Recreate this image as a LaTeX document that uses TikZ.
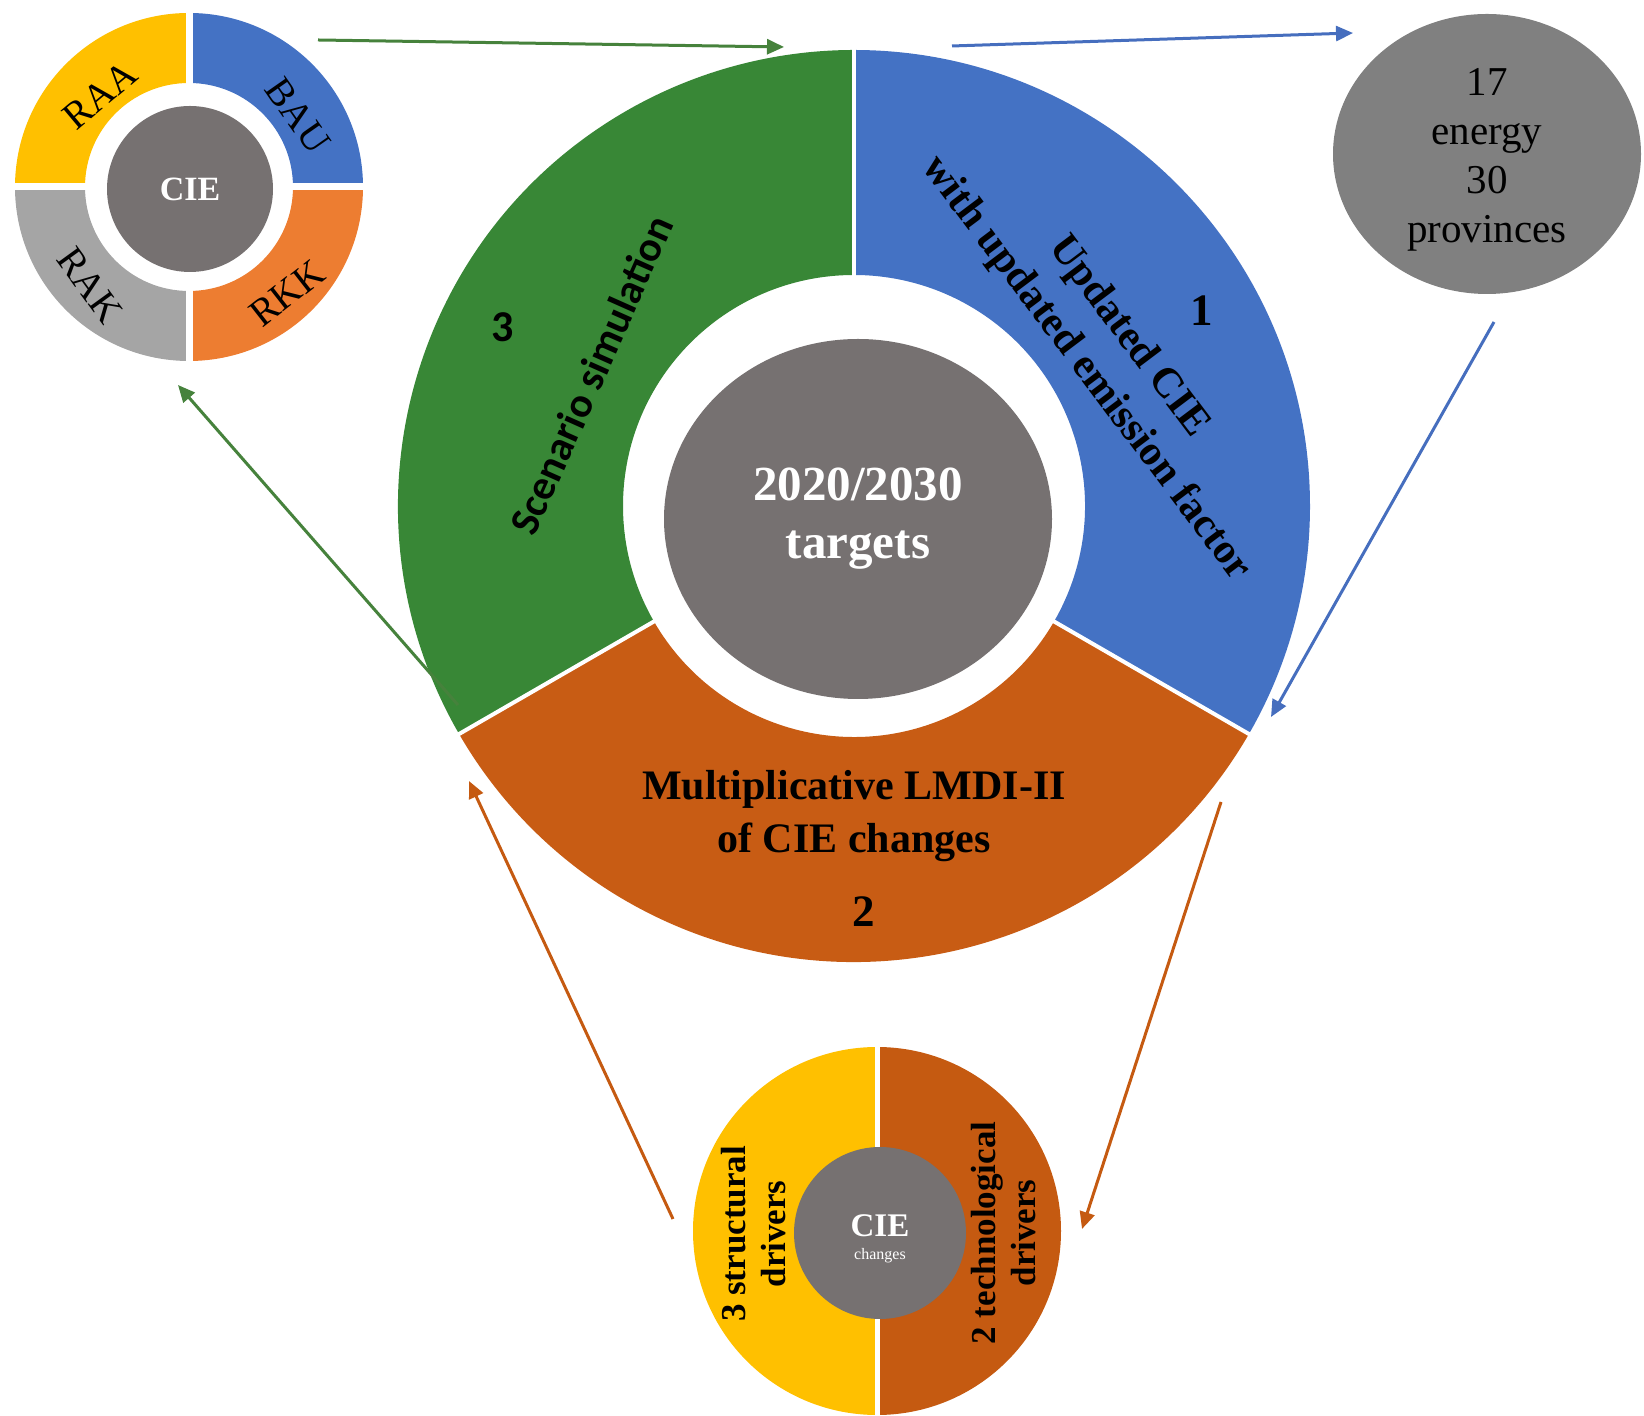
\documentclass[tikz,border=0pt]{standalone}
\usepackage{fontspec}
\setmainfont{Liberation Serif}
\newfontfamily\carlito{Carlito}
\usetikzlibrary{arrows.meta,shapes.geometric}

\definecolor{mgreen}{RGB}{56,135,54}
\definecolor{mblue}{RGB}{68,114,196}
\definecolor{morange}{RGB}{200,92,20}
\definecolor{hubgray}{RGB}{118,113,113}
\definecolor{egray}{RGB}{128,128,128}
\definecolor{syellow}{RGB}{255,192,0}
\definecolor{sorange}{RGB}{237,125,49}
\definecolor{sgray}{RGB}{165,165,165}
\definecolor{dorange}{RGB}{197,90,17}
\definecolor{agreen}{RGB}{70,130,60}
\definecolor{ablue}{RGB}{70,110,190}

\begin{document}
\begin{tikzpicture}[x=1pt,y=1pt,
    hub/.style={circle,fill=hubgray,text=white,inner sep=0},
    wheeltxt/.style={font=\fontsize{39}{44}\selectfont},
    segtxt/.style={font=\bfseries\fontsize{42}{53}\selectfont,align=center},
    drvtxt/.style={font=\bfseries\fontsize{35}{40}\selectfont,align=center},
    numtxt/.style={font=\bfseries\fontsize{45}{50}\selectfont},
    flow/.style={line width=3,-{Triangle[length=17,width=15]}}]
\useasboundingbox (0,0) rectangle (1644,1416);

% scenario wheel, top left
\coordinate (sc) at (189,1229);
\foreach \a/\col in {0/mblue,90/syellow,180/sgray,270/sorange}
  \fill[\col] ([shift={(\a:174)}]sc) arc[start angle=\a,end angle=\a+90,radius=174]
    -- ([shift={(\a+90:104)}]sc) arc[start angle=\a+90,end angle=\a,radius=104] -- cycle;
\draw[white,line width=7] ([xshift=-180]sc) -- ([xshift=180]sc);
\draw[white,line width=7] ([yshift=-180]sc) -- ([yshift=180]sc);
\node[hub,minimum size=166,font=\bfseries\fontsize{34}{40}\selectfont] (cie) at (190,1227) {CIE};
\node[wheeltxt,rotate=40] (raa) at (100,1321) {RAA};
\node[wheeltxt,rotate=-55] (bau) at (298,1300) {BAU};
\node[wheeltxt,rotate=-54] (rak) at (90,1131) {RAK};
\node[wheeltxt,rotate=38] (rkk) at (287,1123) {RKK};

% main ring
\coordinate (mc) at (854,910);
\foreach \a/\b/\col in {90/-30/mblue,-30/-150/morange,210/90/mgreen}
  \fill[\col] ([shift={(\a:456)}]mc) arc[start angle=\a,end angle=\b,radius=456]
    -- ([shift={(\b:231)}]mc) arc[start angle=\b,end angle=\a,radius=231] -- cycle;
\foreach \a in {90,-30,210}
  \draw[white,line width=4] ([shift={(\a:220)}]mc) -- ([shift={(\a:470)}]mc);
\node[hub,ellipse,minimum width=388,minimum height=360,align=center,
  font=\bfseries\fontsize{49}{58}\selectfont] (targets) at (858,897) {2020/2030\\targets};
\node[segtxt,rotate=-53] (upd) at (1107,1063) {Updated CIE\\with updated emission factor};
\node[segtxt] (lmdi) at (854,600) {Multiplicative LMDI-II\\of CIE changes};
\node[font=\carlito\bfseries\fontsize{42}{50}\selectfont,rotate=66] (scen) at (591,1041) {Scenario simulation};
\node[numtxt] (n1) at (1202,1105) {1};
\node[numtxt] (n2) at (864,504) {2};
\node[font=\carlito\bfseries\fontsize{44}{50}\selectfont] (n3) at (503,1089) {3};

% provinces, top right
\node[ellipse,fill=egray,minimum width=308,minimum height=280,inner sep=0,align=center,
  font=\fontsize{41}{49}\selectfont] (prov) at (1487,1262) {};
\node[align=center,font=\fontsize{41}{49}\selectfont] (provtxt) at (1487,1256) {17\\energy\\30\\provinces};

% drivers wheel, bottom
\coordinate (dc) at (877,185);
\fill[syellow] ([yshift=184]dc) arc[start angle=90,end angle=270,radius=184] -- cycle;
\fill[dorange] ([yshift=-184]dc) arc[start angle=-90,end angle=90,radius=184] -- cycle;
\draw[white,line width=5] ([yshift=-190]dc) -- ([yshift=190]dc);
\node[hub,minimum size=172] (chg) at (880,183) {};
\node[text=white,font=\bfseries\fontsize{33}{38}\selectfont] (chgcie) at (880,190) {CIE};
\node[text=white,font=\fontsize{16}{18}\selectfont] (chgtxt) at (880,160) {changes};
\node[drvtxt,rotate=90] (struct) at (754,182) {3 structural\\drivers};
\node[drvtxt,rotate=90] (tech) at (1004,183) {2 technological\\drivers};

% arrows
\coordinate (g1s) at (318,1376); \coordinate (g1e) at (784,1369);
\coordinate (b1s) at (952,1370); \coordinate (b1e) at (1353,1383);
\coordinate (b2s) at (1494,1094); \coordinate (b2e) at (1271,699);
\coordinate (o1s) at (1221,614); \coordinate (o1e) at (1082,187);
\coordinate (o2s) at (673,197); \coordinate (o2e) at (469,635);
\coordinate (g2s) at (458,711); \coordinate (g2e) at (178,1031);
\draw[flow,agreen] (g1s) -- (g1e);
\draw[flow,ablue] (b1s) -- (b1e);
\draw[flow,ablue] (b2s) -- (b2e);
\draw[flow,dorange] (o1s) -- (o1e);
\draw[flow,dorange] (o2s) -- (o2e);
\draw[flow,agreen] (g2s) -- (g2e);
\end{tikzpicture}
\end{document}
